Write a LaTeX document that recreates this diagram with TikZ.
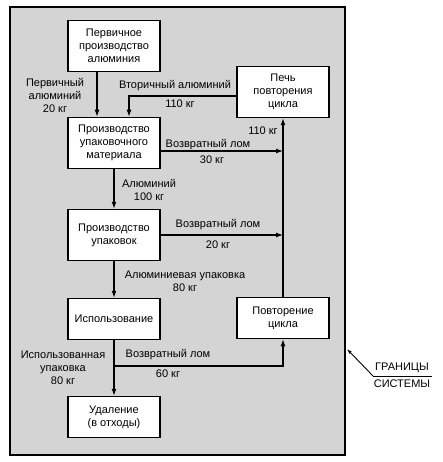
\documentclass[tikz,border=0pt]{standalone}
\usepackage{fontspec}
\setmainfont{Liberation Sans}
\usetikzlibrary{arrows.meta,positioning}

\begin{document}
\begin{tikzpicture}[x=1pt,y=-1pt,
  box/.style={draw,line width=1.5pt,fill=white,minimum width=92pt,
    minimum height=51pt,align=center,inner sep=1pt,
    font=\fontsize{11}{13}\selectfont},
  lbl/.style={font=\fontsize{11}{13}\selectfont,align=center,inner sep=0pt},
  flow/.style={line width=1.2pt,-{Latex[length=7pt,width=5pt]}}]
  \useasboundingbox (0,0) rectangle (443,462);
  \draw[line width=1.5pt,fill=black!17] (10,7) rectangle (345,455);
  % boxes
  \node[box] (prim) at (114,46) {Первичное\\производство\\алюминия};
  \node[box] (furn) at (283,92) {Печь\\повторения\\цикла};
  \node[box] (pmat) at (114,143) {Производство\\упаковочного\\материала};
  \node[box] (ppack) at (114,235) {Производство\\упаковок};
  \node[box,minimum height=41pt] (use) at (114,319) {Использование};
  \node[box,minimum height=41pt] (recyc) at (283,318) {Повторение\\цикла};
  \node[box,minimum height=41pt] (disp) at (114,417) {Удаление\\(в отходы)};
  % flows
  \draw[flow] ([xshift=-17pt]prim.south) -- ([xshift=-17pt]pmat.north);
  \draw[flow] ([yshift=-4pt]furn.west) -| ([xshift=15pt]pmat.north);
  \draw[flow] ([yshift=-8pt]pmat.east) -- ([yshift=-8pt]pmat.east -| furn.south);
  \draw[flow] (ppack.east) -- (ppack.east -| furn.south);
  \draw[flow] (recyc.north) -- (furn.south);
  \draw[flow] (pmat.south) -- (ppack.north);
  \draw[flow] (ppack.south) -- (use.north);
  \draw[flow] (use.south) -- (disp.north);
  \coordinate (split) at (114,366);
  \draw[flow] (split) -| (recyc.south);
  % labels
  \node[lbl] (lprim) at (55,95) {Первичный\\алюминий\\20 кг};
  \node[lbl] (lsec) at (175,86) {Вторичный алюминий};
  \node[lbl] (lsecm) at (180,104) {110 кг};
  \node[lbl] (lret) at (263,131) {110 кг};
  \node[lbl] (lscra) at (208,145) {Возвратный лом};
  \node[lbl] (lscram) at (212,160) {30 кг};
  \node[lbl] (lalu) at (149,190) {Алюминий\\100 кг};
  \node[lbl] (lscrb) at (218,225) {Возвратный лом};
  \node[lbl] (lscrbm) at (218,245) {20 кг};
  \node[lbl] (lpack) at (185,281) {Алюминиевая упаковка\\80 кг};
  \node[lbl] (lused) at (63,368) {Использованная\\упаковка\\80 кг};
  \node[lbl] (lscrc) at (168,355) {Возвратный лом};
  \node[lbl] (lscrcm) at (168,374) {60 кг};
  % system boundary
  \node[lbl] (bname) at (402,368) {ГРАНИЦЫ};
  \node[lbl] (bname2) at (402,384) {СИСТЕМЫ};
  \coordinate (bnd) at (347,349);
  \coordinate (bline) at (373,376);
  \draw[line width=0.9pt,-{Latex[length=5pt,width=3.5pt]}] (bline) -- (bnd);
  \draw[line width=0.9pt] (bline) -- (432,376);
\end{tikzpicture}
\end{document}
